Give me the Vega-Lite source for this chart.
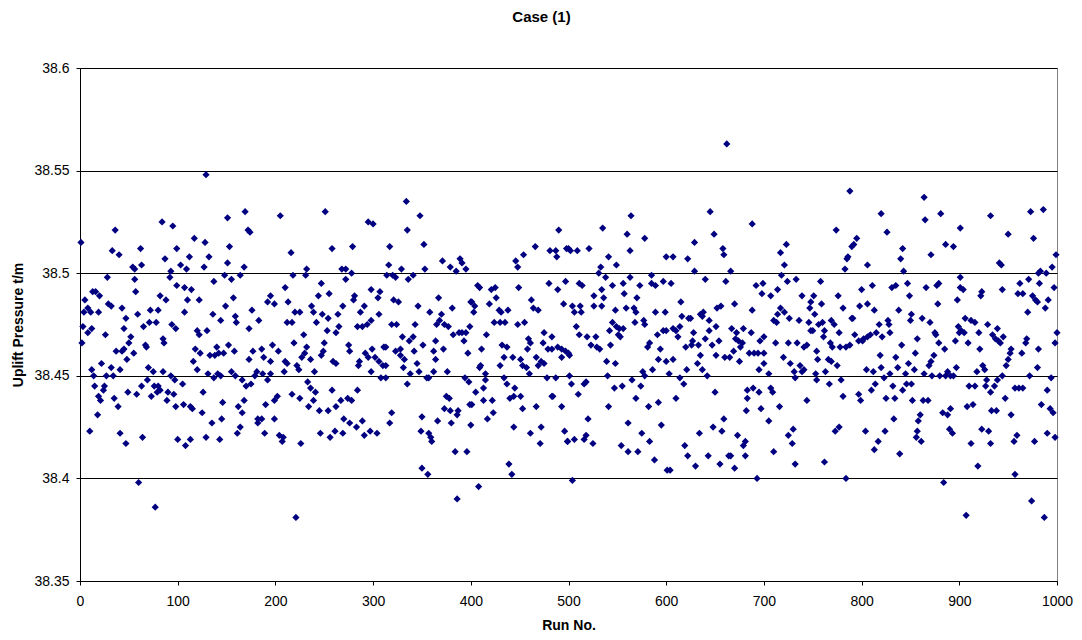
{
"$schema": "https://vega.github.io/schema/vega-lite/v6.json",
"width": 977, "height": 513,
"autosize": "none",
"padding": {"left": 80, "top": 68, "right": 25, "bottom": 59},
"background": "white",
"title": {"text": "Case (1)", "font": "Liberation Sans", "fontSize": 15, "fontWeight": "bold", "color": "#000", "anchor": "middle", "offset": 36, "dx": -27},
"config": {"view": {"stroke": "#808080", "strokeWidth": 1}},
"data": {"values": [
{"run":1,"p":38.515},{"run":36,"p":38.521},{"run":84,"p":38.525},{"run":95,"p":38.523},{"run":33,"p":38.511},{"run":40,"p":38.509},{"run":62,"p":38.512},{"run":99,"p":38.512},{"run":87,"p":38.507},{"run":54,"p":38.503},{"run":56,"p":38.502},{"run":63,"p":38.504},{"run":93,"p":38.501},{"run":92,"p":38.498},{"run":28,"p":38.498},{"run":56,"p":38.497},{"run":99,"p":38.494},{"run":57,"p":38.491},{"run":13,"p":38.491},{"run":16,"p":38.491},{"run":20,"p":38.489},{"run":82,"p":38.489},{"run":88,"p":38.487},{"run":5,"p":38.487},{"run":29,"p":38.485},{"run":32,"p":38.484},{"run":43,"p":38.483},{"run":4,"p":38.481},{"run":8,"p":38.483},{"run":11,"p":38.481},{"run":19,"p":38.481},{"run":72,"p":38.482},{"run":80,"p":38.482},{"run":59,"p":38.48},{"run":47,"p":38.478},{"run":71,"p":38.476},{"run":78,"p":38.476},{"run":94,"p":38.475},{"run":98,"p":38.473},{"run":3,"p":38.474},{"run":65,"p":38.474},{"run":45,"p":38.473},{"run":8,"p":38.471},{"run":12,"p":38.473},{"run":26,"p":38.47},{"run":52,"p":38.469},{"run":50,"p":38.466},{"run":85,"p":38.468},{"run":86,"p":38.466},{"run":2,"p":38.466},{"run":45,"p":38.463},{"run":67,"p":38.465},{"run":68,"p":38.464},{"run":37,"p":38.462},{"run":43,"p":38.462},{"run":55,"p":38.461},{"run":48,"p":38.458},{"run":22,"p":38.456},{"run":12,"p":38.453},{"run":14,"p":38.45},{"run":27,"p":38.45},{"run":32,"p":38.454},{"run":34,"p":38.45},{"run":41,"p":38.453},{"run":70,"p":38.454},{"run":75,"p":38.452},{"run":85,"p":38.452},{"run":93,"p":38.45},{"run":97,"p":38.448},{"run":69,"p":38.448},{"run":15,"p":38.445},{"run":25,"p":38.445},{"run":24,"p":38.443},{"run":19,"p":38.44},{"run":21,"p":38.438},{"run":63,"p":38.445},{"run":58,"p":38.441},{"run":49,"p":38.442},{"run":73,"p":38.44},{"run":76,"p":38.445},{"run":80,"p":38.445},{"run":82,"p":38.443},{"run":79,"p":38.442},{"run":90,"p":38.442},{"run":96,"p":38.441},{"run":89,"p":38.438},{"run":35,"p":38.439},{"run":39,"p":38.435},{"run":98,"p":38.435},{"run":18,"p":38.431},{"run":10,"p":38.423},{"run":41,"p":38.422},{"run":47,"p":38.417},{"run":64,"p":38.42},{"run":100,"p":38.419},{"run":60,"p":38.398},{"run":77,"p":38.386},
{"run":129,"p":38.548},{"run":169,"p":38.53},{"run":151,"p":38.527},{"run":172,"p":38.521},{"run":174,"p":38.52},{"run":117,"p":38.517},{"run":128,"p":38.515},{"run":153,"p":38.513},{"run":112,"p":38.508},{"run":132,"p":38.508},{"run":103,"p":38.504},{"run":109,"p":38.502},{"run":127,"p":38.503},{"run":151,"p":38.505},{"run":168,"p":38.503},{"run":148,"p":38.499},{"run":155,"p":38.497},{"run":164,"p":38.499},{"run":137,"p":38.496},{"run":107,"p":38.493},{"run":114,"p":38.492},{"run":110,"p":38.487},{"run":122,"p":38.487},{"run":157,"p":38.488},{"run":195,"p":38.489},{"run":192,"p":38.486},{"run":199,"p":38.485},{"run":149,"p":38.484},{"run":176,"p":38.482},{"run":107,"p":38.481},{"run":136,"p":38.48},{"run":159,"p":38.479},{"run":160,"p":38.476},{"run":144,"p":38.477},{"run":183,"p":38.477},{"run":173,"p":38.473},{"run":120,"p":38.472},{"run":122,"p":38.47},{"run":130,"p":38.472},{"run":197,"p":38.465},{"run":118,"p":38.463},{"run":123,"p":38.461},{"run":140,"p":38.464},{"run":152,"p":38.465},{"run":186,"p":38.463},{"run":177,"p":38.462},{"run":158,"p":38.462},{"run":133,"p":38.46},{"run":138,"p":38.46},{"run":142,"p":38.461},{"run":147,"p":38.461},{"run":116,"p":38.457},{"run":173,"p":38.458},{"run":188,"p":38.459},{"run":195,"p":38.457},{"run":120,"p":38.453},{"run":131,"p":38.451},{"run":137,"p":38.449},{"run":141,"p":38.451},{"run":144,"p":38.45},{"run":155,"p":38.452},{"run":159,"p":38.45},{"run":166,"p":38.448},{"run":170,"p":38.445},{"run":175,"p":38.446},{"run":179,"p":38.45},{"run":181,"p":38.452},{"run":187,"p":38.451},{"run":192,"p":38.448},{"run":195,"p":38.451},{"run":105,"p":38.446},{"run":126,"p":38.442},{"run":106,"p":38.436},{"run":113,"p":38.435},{"run":115,"p":38.434},{"run":125,"p":38.432},{"run":146,"p":38.437},{"run":162,"p":38.435},{"run":168,"p":38.438},{"run":166,"p":38.432},{"run":190,"p":38.436},{"run":199,"p":38.438},{"run":135,"p":38.427},{"run":145,"p":38.429},{"run":182,"p":38.429},{"run":186,"p":38.429},{"run":182,"p":38.427},{"run":199,"p":38.429},{"run":164,"p":38.425},{"run":161,"p":38.422},{"run":189,"p":38.422},{"run":113,"p":38.419},{"run":108,"p":38.416},{"run":129,"p":38.42},{"run":143,"p":38.419},
{"run":251,"p":38.53},{"run":205,"p":38.528},{"run":295,"p":38.525},{"run":300,"p":38.524},{"run":216,"p":38.51},{"run":258,"p":38.512},{"run":279,"p":38.513},{"run":232,"p":38.502},{"run":231,"p":38.499},{"run":218,"p":38.499},{"run":268,"p":38.502},{"run":272,"p":38.502},{"run":278,"p":38.5},{"run":272,"p":38.497},{"run":247,"p":38.495},{"run":210,"p":38.493},{"run":255,"p":38.49},{"run":244,"p":38.489},{"run":281,"p":38.489},{"run":280,"p":38.487},{"run":298,"p":38.492},{"run":213,"p":38.486},{"run":237,"p":38.484},{"run":269,"p":38.484},{"run":291,"p":38.484},{"run":239,"p":38.481},{"run":220,"p":38.481},{"run":225,"p":38.481},{"run":248,"p":38.48},{"run":264,"p":38.48},{"run":287,"p":38.481},{"run":254,"p":38.478},{"run":212,"p":38.476},{"run":217,"p":38.476},{"run":242,"p":38.476},{"run":298,"p":38.477},{"run":265,"p":38.474},{"run":262,"p":38.471},{"run":284,"p":38.474},{"run":289,"p":38.474},{"run":294,"p":38.475},{"run":253,"p":38.472},{"run":229,"p":38.47},{"run":250,"p":38.466},{"run":249,"p":38.462},{"run":219,"p":38.466},{"run":275,"p":38.465},{"run":276,"p":38.462},{"run":203,"p":38.462},{"run":232,"p":38.464},{"run":230,"p":38.461},{"run":227,"p":38.459},{"run":247,"p":38.46},{"run":292,"p":38.461},{"run":295,"p":38.459},{"run":299,"p":38.463},{"run":236,"p":38.458},{"run":210,"p":38.457},{"run":212,"p":38.456},{"run":259,"p":38.457},{"run":262,"p":38.456},{"run":286,"p":38.457},{"run":285,"p":38.455},{"run":222,"p":38.455},{"run":224,"p":38.453},{"run":209,"p":38.452},{"run":240,"p":38.452},{"run":298,"p":38.452},{"run":233,"p":38.447},{"run":236,"p":38.444},{"run":241,"p":38.442},{"run":239,"p":38.438},{"run":258,"p":38.443},{"run":284,"p":38.443},{"run":217,"p":38.441},{"run":225,"p":38.439},{"run":202,"p":38.44},{"run":267,"p":38.438},{"run":262,"p":38.435},{"run":274,"p":38.439},{"run":278,"p":38.438},{"run":234,"p":38.435},{"run":245,"p":38.433},{"run":254,"p":38.433},{"run":270,"p":38.429},{"run":276,"p":38.427},{"run":289,"p":38.428},{"run":283,"p":38.425},{"run":297,"p":38.423},{"run":291,"p":38.421},{"run":246,"p":38.422},{"run":261,"p":38.423},{"run":256,"p":38.42},{"run":269,"p":38.422},{"run":204,"p":38.421},{"run":208,"p":38.42},{"run":207,"p":38.418},{"run":226,"p":38.417},{"run":221,"p":38.381},
{"run":334,"p":38.535},{"run":348,"p":38.528},{"run":335,"p":38.521},{"run":317,"p":38.513},{"run":352,"p":38.514},{"run":371,"p":38.506},{"run":389,"p":38.507},{"run":391,"p":38.505},{"run":395,"p":38.502},{"run":379,"p":38.503},{"run":385,"p":38.501},{"run":316,"p":38.504},{"run":329,"p":38.502},{"run":353,"p":38.502},{"run":314,"p":38.499},{"run":320,"p":38.499},{"run":323,"p":38.498},{"run":341,"p":38.499},{"run":336,"p":38.497},{"run":307,"p":38.491},{"run":305,"p":38.488},{"run":321,"p":38.487},{"run":326,"p":38.486},{"run":367,"p":38.488},{"run":346,"p":38.484},{"run":358,"p":38.481},{"run":381,"p":38.483},{"run":400,"p":38.486},{"run":306,"p":38.48},{"run":370,"p":38.48},{"run":368,"p":38.477},{"run":373,"p":38.475},{"run":377,"p":38.474},{"run":319,"p":38.475},{"run":324,"p":38.475},{"run":343,"p":38.475},{"run":365,"p":38.475},{"run":382,"p":38.47},{"run":388,"p":38.471},{"run":391,"p":38.471},{"run":395,"p":38.471},{"run":399,"p":38.474},{"run":330,"p":38.469},{"run":337,"p":38.467},{"run":341,"p":38.469},{"run":364,"p":38.467},{"run":393,"p":38.467},{"run":311,"p":38.464},{"run":313,"p":38.464},{"run":351,"p":38.465},{"run":328,"p":38.463},{"run":323,"p":38.462},{"run":328,"p":38.46},{"run":332,"p":38.458},{"run":342,"p":38.462},{"run":362,"p":38.462},{"run":364,"p":38.458},{"run":372,"p":38.463},{"run":397,"p":38.461},{"run":302,"p":38.459},{"run":306,"p":38.457},{"run":310,"p":38.455},{"run":313,"p":38.455},{"run":331,"p":38.454},{"run":345,"p":38.456},{"run":347,"p":38.452},{"run":362,"p":38.452},{"run":357,"p":38.449},{"run":376,"p":38.452},{"run":394,"p":38.449},{"run":398,"p":38.447},{"run":338,"p":38.451},{"run":335,"p":38.446},{"run":355,"p":38.449},{"run":308,"p":38.449},{"run":313,"p":38.449},{"run":375,"p":38.44},{"run":378,"p":38.439},{"run":373,"p":38.434},{"run":379,"p":38.433},{"run":399,"p":38.436},{"run":387,"p":38.433},{"run":386,"p":38.431},{"run":319,"p":38.432},{"run":317,"p":38.427},{"run":350,"p":38.43},{"run":366,"p":38.428},{"run":380,"p":38.427},{"run":400,"p":38.426},{"run":304,"p":38.422},{"run":349,"p":38.423},{"run":357,"p":38.422},{"run":359,"p":38.42},{"run":360,"p":38.418},{"run":384,"p":38.413},{"run":396,"p":38.413},{"run":350,"p":38.405},{"run":356,"p":38.402},{"run":386,"p":38.39},
{"run":490,"p":38.521},{"run":466,"p":38.513},{"run":454,"p":38.509},{"run":446,"p":38.506},{"run":448,"p":38.503},{"run":481,"p":38.511},{"run":487,"p":38.511},{"run":488,"p":38.508},{"run":498,"p":38.512},{"run":407,"p":38.494},{"run":409,"p":38.493},{"run":421,"p":38.492},{"run":425,"p":38.493},{"run":449,"p":38.493},{"run":480,"p":38.495},{"run":489,"p":38.492},{"run":497,"p":38.496},{"run":426,"p":38.488},{"run":462,"p":38.487},{"run":401,"p":38.486},{"run":404,"p":38.484},{"run":403,"p":38.481},{"run":419,"p":38.485},{"run":429,"p":38.482},{"run":431,"p":38.481},{"run":438,"p":38.482},{"run":464,"p":38.483},{"run":469,"p":38.482},{"run":495,"p":38.485},{"run":424,"p":38.476},{"run":430,"p":38.476},{"run":435,"p":38.476},{"run":448,"p":38.475},{"run":455,"p":38.476},{"run":416,"p":38.47},{"run":475,"p":38.471},{"run":483,"p":38.469},{"run":459,"p":38.468},{"run":461,"p":38.466},{"run":432,"p":38.465},{"run":437,"p":38.464},{"run":474,"p":38.466},{"run":479,"p":38.463},{"run":483,"p":38.463},{"run":489,"p":38.464},{"run":493,"p":38.463},{"run":497,"p":38.462},{"run":411,"p":38.463},{"run":458,"p":38.463},{"run":434,"p":38.459},{"run":430,"p":38.455},{"run":443,"p":38.459},{"run":451,"p":38.458},{"run":453,"p":38.455},{"run":457,"p":38.454},{"run":467,"p":38.459},{"run":469,"p":38.455},{"run":472,"p":38.457},{"run":475,"p":38.456},{"run":493,"p":38.459},{"run":500,"p":38.461},{"run":410,"p":38.455},{"run":409,"p":38.454},{"run":415,"p":38.451},{"run":478,"p":38.449},{"run":487,"p":38.449},{"run":415,"p":38.448},{"run":413,"p":38.444},{"run":405,"p":38.442},{"run":434,"p":38.449},{"run":437,"p":38.446},{"run":440,"p":38.439},{"run":445,"p":38.444},{"run":444,"p":38.44},{"run":451,"p":38.44},{"run":460,"p":38.451},{"run":483,"p":38.44},{"run":484,"p":38.44},{"run":501,"p":38.45},{"run":401,"p":38.436},{"run":413,"p":38.438},{"run":422,"p":38.438},{"run":423,"p":38.432},{"run":417,"p":38.429},{"run":453,"p":38.434},{"run":467,"p":38.435},{"run":493,"p":38.435},{"run":444,"p":38.425},{"run":472,"p":38.425},{"run":461,"p":38.422},{"run":471,"p":38.417},{"run":496,"p":38.423},{"run":499,"p":38.418},{"run":439,"p":38.407},{"run":442,"p":38.402},{"run":408,"p":38.396},
{"run":564,"p":38.528},{"run":535,"p":38.522},{"run":560,"p":38.519},{"run":563,"p":38.511},{"run":578,"p":38.517},{"run":600,"p":38.508},{"run":500,"p":38.512},{"run":502,"p":38.511},{"run":509,"p":38.511},{"run":521,"p":38.512},{"run":541,"p":38.508},{"run":549,"p":38.504},{"run":533,"p":38.503},{"run":531,"p":38.5},{"run":538,"p":38.498},{"run":563,"p":38.498},{"run":585,"p":38.499},{"run":585,"p":38.495},{"run":589,"p":38.494},{"run":597,"p":38.496},{"run":511,"p":38.495},{"run":514,"p":38.494},{"run":556,"p":38.495},{"run":573,"p":38.494},{"run":545,"p":38.494},{"run":526,"p":38.489},{"run":534,"p":38.492},{"run":536,"p":38.488},{"run":557,"p":38.49},{"run":570,"p":38.488},{"run":504,"p":38.484},{"run":512,"p":38.484},{"run":506,"p":38.481},{"run":513,"p":38.481},{"run":526,"p":38.484},{"run":534,"p":38.484},{"run":548,"p":38.482},{"run":559,"p":38.483},{"run":567,"p":38.483},{"run":569,"p":38.481},{"run":589,"p":38.481},{"run":599,"p":38.481},{"run":508,"p":38.474},{"run":545,"p":38.476},{"run":542,"p":38.472},{"run":549,"p":38.474},{"run":552,"p":38.473},{"run":551,"p":38.47},{"run":553,"p":38.469},{"run":556,"p":38.473},{"run":568,"p":38.476},{"run":577,"p":38.477},{"run":578,"p":38.475},{"run":591,"p":38.47},{"run":597,"p":38.472},{"run":600,"p":38.472},{"run":501,"p":38.46},{"run":511,"p":38.47},{"run":519,"p":38.469},{"run":523,"p":38.465},{"run":528,"p":38.469},{"run":529,"p":38.464},{"run":532,"p":38.463},{"run":543,"p":38.465},{"run":581,"p":38.464},{"run":583,"p":38.466},{"run":594,"p":38.463},{"run":539,"p":38.457},{"run":548,"p":38.456},{"run":592,"p":38.458},{"run":600,"p":38.457},{"run":576,"p":38.452},{"run":578,"p":38.45},{"run":586,"p":38.453},{"run":540,"p":38.45},{"run":503,"p":38.446},{"run":510,"p":38.441},{"run":518,"p":38.447},{"run":516,"p":38.446},{"run":547,"p":38.444},{"run":555,"p":38.445},{"run":565,"p":38.448},{"run":574,"p":38.445},{"run":569,"p":38.439},{"run":582,"p":38.435},{"run":592,"p":38.437},{"run":541,"p":38.435},{"run":520,"p":38.429},{"run":561,"p":38.427},{"run":595,"p":38.426},{"run":575,"p":38.422},{"run":583,"p":38.418},{"run":499,"p":38.418},{"run":506,"p":38.419},{"run":516,"p":38.419},{"run":518,"p":38.421},{"run":525,"p":38.417},{"run":554,"p":38.416},{"run":561,"p":38.413},{"run":571,"p":38.413},{"run":588,"p":38.409},{"run":601,"p":38.404},{"run":504,"p":38.399},
{"run":645,"p":38.53},{"run":688,"p":38.524},{"run":649,"p":38.519},{"run":629,"p":38.515},{"run":658,"p":38.512},{"run":659,"p":38.509},{"run":607,"p":38.508},{"run":622,"p":38.507},{"run":629,"p":38.501},{"run":666,"p":38.501},{"run":605,"p":38.495},{"run":640,"p":38.497},{"run":661,"p":38.496},{"run":692,"p":38.494},{"run":699,"p":38.495},{"run":698,"p":38.49},{"run":615,"p":38.486},{"run":616,"p":38.479},{"run":623,"p":38.478},{"run":625,"p":38.478},{"run":635,"p":38.48},{"run":638,"p":38.481},{"run":637,"p":38.479},{"run":644,"p":38.477},{"run":652,"p":38.483},{"run":656,"p":38.484},{"run":670,"p":38.485},{"run":688,"p":38.482},{"run":607,"p":38.473},{"run":610,"p":38.472},{"run":614,"p":38.474},{"run":612,"p":38.469},{"run":628,"p":38.471},{"run":644,"p":38.472},{"run":651,"p":38.474},{"run":667,"p":38.473},{"run":672,"p":38.471},{"run":671,"p":38.468},{"run":674,"p":38.467},{"run":678,"p":38.466},{"run":679,"p":38.473},{"run":687,"p":38.471},{"run":696,"p":38.467},{"run":700,"p":38.469},{"run":620,"p":38.464},{"run":626,"p":38.465},{"run":627,"p":38.467},{"run":633,"p":38.465},{"run":640,"p":38.468},{"run":647,"p":38.465},{"run":654,"p":38.467},{"run":635,"p":38.46},{"run":651,"p":38.46},{"run":660,"p":38.459},{"run":665,"p":38.459},{"run":669,"p":38.462},{"run":676,"p":38.464},{"run":675,"p":38.457},{"run":685,"p":38.461},{"run":690,"p":38.461},{"run":694,"p":38.461},{"run":700,"p":38.461},{"run":607,"p":38.458},{"run":632,"p":38.456},{"run":637,"p":38.453},{"run":642,"p":38.45},{"run":621,"p":38.453},{"run":603,"p":38.451},{"run":695,"p":38.453},{"run":700,"p":38.456},{"run":614,"p":38.449},{"run":618,"p":38.446},{"run":650,"p":38.442},{"run":683,"p":38.443},{"run":689,"p":38.444},{"run":695,"p":38.442},{"run":683,"p":38.439},{"run":610,"p":38.439},{"run":682,"p":38.433},{"run":697,"p":38.434},{"run":659,"p":38.429},{"run":648,"p":38.425},{"run":657,"p":38.423},{"run":634,"p":38.422},{"run":673,"p":38.421},{"run":681,"p":38.418},{"run":679,"p":38.416},{"run":619,"p":38.416},{"run":622,"p":38.411},{"run":643,"p":38.411},{"run":664,"p":38.411},{"run":666,"p":38.411},{"run":681,"p":38.411},{"run":655,"p":38.407},{"run":630,"p":38.406},{"run":670,"p":38.405},{"run":604,"p":38.404},{"run":693,"p":38.4},{"run":662,"p":38.563},
{"run":788,"p":38.54},{"run":774,"p":38.521},{"run":795,"p":38.517},{"run":792,"p":38.514},{"run":790,"p":38.513},{"run":786,"p":38.508},{"run":785,"p":38.507},{"run":783,"p":38.502},{"run":717,"p":38.51},{"run":723,"p":38.514},{"run":721,"p":38.504},{"run":718,"p":38.499},{"run":724,"p":38.496},{"run":733,"p":38.497},{"run":707,"p":38.489},{"run":714,"p":38.492},{"run":758,"p":38.496},{"run":739,"p":38.489},{"run":751,"p":38.489},{"run":776,"p":38.489},{"run":800,"p":38.492},{"run":748,"p":38.486},{"run":747,"p":38.483},{"run":759,"p":38.485},{"run":752,"p":38.48},{"run":781,"p":38.483},{"run":798,"p":38.484},{"run":717,"p":38.483},{"run":714,"p":38.48},{"run":721,"p":38.481},{"run":726,"p":38.478},{"run":710,"p":38.477},{"run":713,"p":38.476},{"run":736,"p":38.477},{"run":746,"p":38.476},{"run":760,"p":38.476},{"run":756,"p":38.475},{"run":769,"p":38.477},{"run":772,"p":38.475},{"run":790,"p":38.478},{"run":791,"p":38.478},{"run":748,"p":38.472},{"run":750,"p":38.472},{"run":762,"p":38.472},{"run":761,"p":38.469},{"run":777,"p":38.471},{"run":793,"p":38.47},{"run":797,"p":38.467},{"run":801,"p":38.467},{"run":712,"p":38.466},{"run":725,"p":38.466},{"run":734,"p":38.466},{"run":741,"p":38.464},{"run":744,"p":38.465},{"run":768,"p":38.466},{"run":770,"p":38.464},{"run":778,"p":38.464},{"run":784,"p":38.464},{"run":788,"p":38.465},{"run":754,"p":38.462},{"run":720,"p":38.459},{"run":727,"p":38.456},{"run":755,"p":38.458},{"run":766,"p":38.458},{"run":769,"p":38.457},{"run":775,"p":38.455},{"run":737,"p":38.455},{"run":741,"p":38.453},{"run":739,"p":38.452},{"run":763,"p":38.452},{"run":705,"p":38.451},{"run":731,"p":38.452},{"run":732,"p":38.449},{"run":753,"p":38.451},{"run":754,"p":38.448},{"run":779,"p":38.448},{"run":767,"p":38.446},{"run":707,"p":38.444},{"run":709,"p":38.442},{"run":744,"p":38.438},{"run":781,"p":38.44},{"run":797,"p":38.441},{"run":799,"p":38.438},{"run":716,"p":38.435},{"run":705,"p":38.428},{"run":730,"p":38.424},{"run":725,"p":38.421},{"run":729,"p":38.417},{"run":777,"p":38.425},{"run":773,"p":38.423},{"run":710,"p":38.413},{"run":732,"p":38.407},{"run":762,"p":38.408},{"run":784,"p":38.4},
{"run":864,"p":38.537},{"run":820,"p":38.529},{"run":881,"p":38.529},{"run":865,"p":38.526},{"run":826,"p":38.52},{"run":901,"p":38.522},{"run":886,"p":38.514},{"run":894,"p":38.513},{"run":842,"p":38.512},{"run":840,"p":38.507},{"run":843,"p":38.501},{"run":871,"p":38.509},{"run":806,"p":38.504},{"run":901,"p":38.498},{"run":811,"p":38.494},{"run":831,"p":38.493},{"run":835,"p":38.494},{"run":847,"p":38.495},{"run":849,"p":38.489},{"run":866,"p":38.493},{"run":879,"p":38.495},{"run":877,"p":38.494},{"run":901,"p":38.493},{"run":898,"p":38.487},{"run":878,"p":38.485},{"run":806,"p":38.485},{"run":813,"p":38.482},{"run":838,"p":38.482},{"run":851,"p":38.48},{"run":850,"p":38.477},{"run":862,"p":38.478},{"run":870,"p":38.476},{"run":827,"p":38.477},{"run":828,"p":38.475},{"run":829,"p":38.471},{"run":818,"p":38.475},{"run":821,"p":38.469},{"run":815,"p":38.471},{"run":809,"p":38.47},{"run":806,"p":38.469},{"run":802,"p":38.468},{"run":875,"p":38.471},{"run":876,"p":38.47},{"run":899,"p":38.474},{"run":900,"p":38.471},{"run":896,"p":38.467},{"run":857,"p":38.468},{"run":841,"p":38.465},{"run":879,"p":38.466},{"run":885,"p":38.463},{"run":855,"p":38.461},{"run":819,"p":38.46},{"run":835,"p":38.459},{"run":874,"p":38.46},{"run":871,"p":38.457},{"run":869,"p":38.455},{"run":848,"p":38.456},{"run":820,"p":38.454},{"run":805,"p":38.453},{"run":812,"p":38.452},{"run":837,"p":38.454},{"run":897,"p":38.454},{"run":829,"p":38.451},{"run":845,"p":38.451},{"run":854,"p":38.453},{"run":864,"p":38.451},{"run":872,"p":38.45},{"run":880,"p":38.45},{"run":888,"p":38.452},{"run":886,"p":38.45},{"run":891,"p":38.45},{"run":894,"p":38.45},{"run":823,"p":38.449},{"run":814,"p":38.446},{"run":810,"p":38.443},{"run":832,"p":38.445},{"run":846,"p":38.446},{"run":851,"p":38.446},{"run":842,"p":38.443},{"run":825,"p":38.439},{"run":834,"p":38.439},{"run":852,"p":38.438},{"run":863,"p":38.438},{"run":868,"p":38.438},{"run":883,"p":38.432},{"run":888,"p":38.431},{"run":891,"p":38.434},{"run":833,"p":38.429},{"run":860,"p":38.431},{"run":858,"p":38.428},{"run":804,"p":38.423},{"run":824,"p":38.423},{"run":857,"p":38.423},{"run":856,"p":38.42},{"run":861,"p":38.418},{"run":890,"p":38.424},{"run":893,"p":38.422},{"run":817,"p":38.418},{"run":813,"p":38.414},{"run":839,"p":38.412},{"run":884,"p":38.398},
{"run":932,"p":38.528},{"run":973,"p":38.53},{"run":986,"p":38.531},{"run":950,"p":38.519},{"run":976,"p":38.517},{"run":999,"p":38.509},{"run":941,"p":38.505},{"run":943,"p":38.504},{"run":995,"p":38.503},{"run":989,"p":38.5},{"run":983,"p":38.501},{"run":981,"p":38.5},{"run":904,"p":38.492},{"run":971,"p":38.497},{"run":962,"p":38.495},{"run":982,"p":38.495},{"run":997,"p":38.493},{"run":923,"p":38.491},{"run":922,"p":38.489},{"run":944,"p":38.492},{"run":960,"p":38.49},{"run":965,"p":38.49},{"run":975,"p":38.489},{"run":978,"p":38.487},{"run":980,"p":38.486},{"run":991,"p":38.487},{"run":970,"p":38.481},{"run":988,"p":38.483},{"run":906,"p":38.478},{"run":912,"p":38.477},{"run":916,"p":38.476},{"run":929,"p":38.475},{"run":939,"p":38.473},{"run":902,"p":38.472},{"run":905,"p":38.471},{"run":920,"p":38.471},{"run":934,"p":38.47},{"run":937,"p":38.468},{"run":940,"p":38.467},{"run":942,"p":38.466},{"run":945,"p":38.469},{"run":969,"p":38.468},{"run":968,"p":38.466},{"run":1000,"p":38.471},{"run":998,"p":38.466},{"run":909,"p":38.466},{"run":921,"p":38.463},{"run":953,"p":38.463},{"run":952,"p":38.461},{"run":950,"p":38.458},{"run":948,"p":38.455},{"run":964,"p":38.461},{"run":981,"p":38.463},{"run":924,"p":38.455},{"run":926,"p":38.453},{"run":918,"p":38.452},{"run":980,"p":38.454},{"run":944,"p":38.45},{"run":972,"p":38.45},{"run":994,"p":38.449},{"run":910,"p":38.445},{"run":916,"p":38.445},{"run":928,"p":38.448},{"run":927,"p":38.445},{"run":932,"p":38.442},{"run":936,"p":38.445},{"run":939,"p":38.448},{"run":957,"p":38.444},{"run":961,"p":38.444},{"run":965,"p":38.444},{"run":990,"p":38.443},{"run":947,"p":38.439},{"run":908,"p":38.435},{"run":914,"p":38.436},{"run":933,"p":38.433},{"run":938,"p":38.433},{"run":984,"p":38.436},{"run":993,"p":38.434},{"run":996,"p":38.432},{"run":953,"p":38.431},{"run":923,"p":38.424},{"run":930,"p":38.423},{"run":990,"p":38.422},{"run":998,"p":38.42},{"run":912,"p":38.417},{"run":932,"p":38.417},{"run":959,"p":38.421},{"run":956,"p":38.418},{"run":977,"p":38.418},{"run":919,"p":38.406},{"run":957,"p":38.402},{"run":974,"p":38.389},{"run":907,"p":38.382},{"run":987,"p":38.381}
]},
"mark": {"type": "point", "shape": "diamond", "filled": true, "size": 52, "color": "#000080", "opacity": 1, "strokeWidth": 0},
"encoding": {
"x": {"field": "run", "type": "quantitative", "scale": {"domain": [0, 1000], "nice": false, "zero": false},
"axis": {"title": "Run No.", "values": [0,100,200,300,400,500,600,700,800,900,1000], "format": "d", "grid": false, "domainColor": "#000", "tickColor": "#000", "tickSize": 4, "labelFont": "Liberation Sans", "labelFontSize": 14, "labelColor": "#000", "labelPadding": 9, "labelFlush": false, "titleFont": "Liberation Sans", "titleFontSize": 14, "titleFontWeight": "bold", "titleColor": "#000", "titlePadding": 10}},
"y": {"field": "p", "type": "quantitative", "scale": {"domain": [38.35, 38.6], "nice": false, "zero": false},
"axis": {"title": "Uplift Pressure t/m", "values": [38.35,38.4,38.45,38.5,38.55,38.6], "format": ".2~f", "grid": true, "gridColor": "#000", "gridWidth": 1, "domainColor": "#000", "tickColor": "#000", "tickSize": 4, "labelFont": "Liberation Sans", "labelFontSize": 14, "labelColor": "#000", "labelPadding": 7, "labelFlush": false, "titleFont": "Liberation Sans", "titleFontSize": 14, "titleFontWeight": "bold", "titleColor": "#000", "titlePadding": 8}}
}
}
